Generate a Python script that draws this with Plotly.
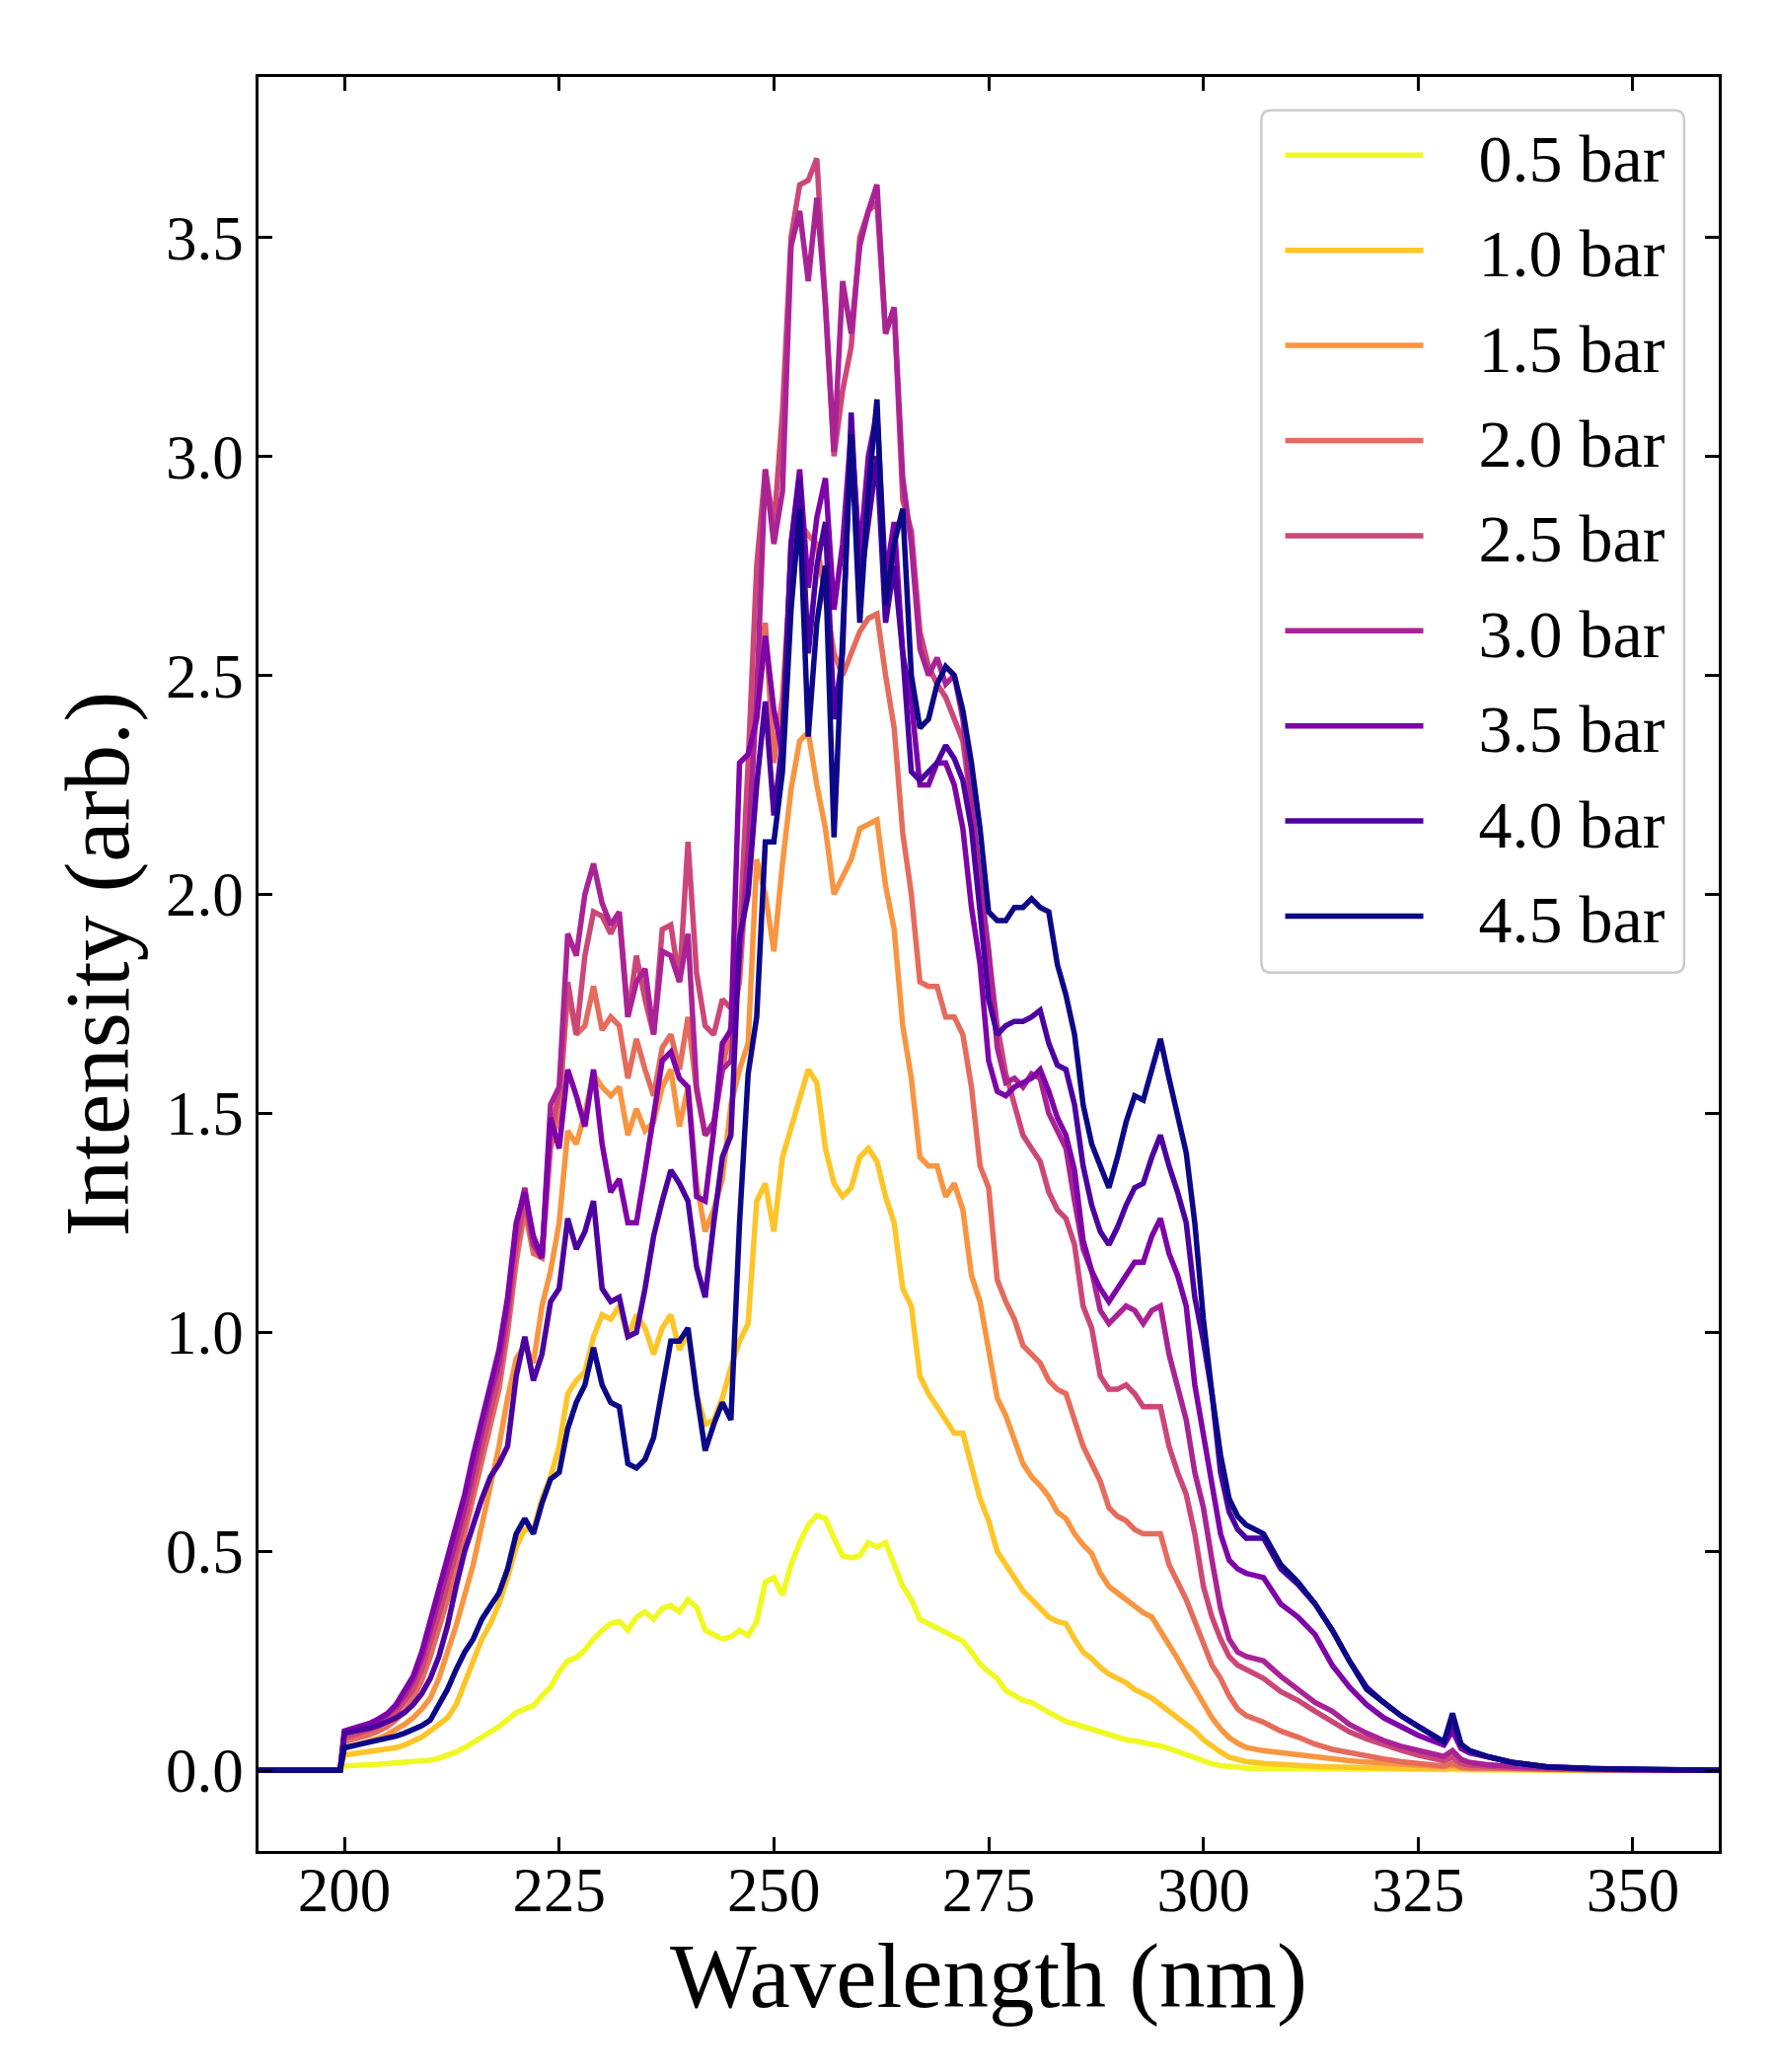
import plotly.graph_objects as go

# wavelength grid (nm)
wavelength = [190, 199.5,
    200, 201, 202, 203, 204, 205, 206, 207, 208, 209,
    210, 211, 212, 213, 214, 215, 216, 217, 218, 219,
    220, 221, 222, 223, 224, 225, 226, 227, 228, 229,
    230, 231, 232, 233, 234, 235, 236, 237, 238, 239,
    240, 241, 242, 243, 244, 245, 246, 247, 248, 249,
    250, 251, 252, 253, 254, 255, 256, 257, 258, 259,
    260, 261, 262, 263, 264, 265, 266, 267, 268, 269,
    270, 271, 272, 273, 274, 275, 276, 277, 278, 279,
    280, 281, 282, 283, 284, 285, 286, 287, 288, 289,
    290, 291, 292, 293, 294, 295, 296, 297, 298, 299,
    300, 301, 302, 303, 304, 305,
    307, 309, 311, 313, 315, 317, 319, 321, 323, 325, 327, 328, 329, 330, 331,
    333, 336, 340, 345, 350, 360]

int_05 = [0.0, 0.0,
    0.010, 0.012, 0.013, 0.013, 0.014, 0.015, 0.016, 0.017, 0.018, 0.020,
    0.023, 0.028, 0.034, 0.042, 0.052, 0.063, 0.075, 0.088, 0.100, 0.118,
    0.132, 0.140, 0.148, 0.170, 0.190, 0.225, 0.250, 0.258, 0.275, 0.300,
    0.320, 0.335, 0.340, 0.320, 0.350, 0.362, 0.345, 0.370, 0.376, 0.362,
    0.390, 0.372, 0.320, 0.310, 0.300, 0.305, 0.320, 0.308, 0.340, 0.430,
    0.440, 0.400, 0.470, 0.520, 0.560, 0.582, 0.575, 0.530, 0.490, 0.485,
    0.490, 0.520, 0.510, 0.520, 0.470, 0.420, 0.390, 0.345, 0.335, 0.325,
    0.312, 0.305, 0.295, 0.270, 0.243, 0.225, 0.210, 0.182, 0.170, 0.160,
    0.155, 0.142, 0.132, 0.122, 0.112, 0.106, 0.100, 0.094, 0.086, 0.080,
    0.075, 0.070, 0.067, 0.064, 0.060, 0.056, 0.050, 0.043, 0.035, 0.027,
    0.020, 0.015, 0.011, 0.008, 0.006, 0.005,
    0.004, 0.004, 0.003, 0.003, 0.003, 0.002, 0.002, 0.002, 0.002, 0.002, 0.002, 0.002, 0.003, 0.002, 0.001,
    0.001, 0.001, 0.001, 0.0, 0.0, 0.0]

int_10 = [0.0, 0.0,
    0.035, 0.038, 0.040, 0.042, 0.045, 0.048, 0.052, 0.058, 0.066, 0.076,
    0.090, 0.105, 0.120, 0.150, 0.200, 0.250, 0.300, 0.335, 0.380, 0.440,
    0.510, 0.550, 0.550, 0.620, 0.670, 0.740, 0.860, 0.890, 0.910, 0.990,
    1.040, 1.030, 1.060, 0.990, 1.040, 1.010, 0.950, 1.010, 1.040, 0.960,
    1.000, 0.860, 0.790, 0.800, 0.850, 0.920, 0.980, 1.020, 1.300, 1.340,
    1.230, 1.400, 1.470, 1.540, 1.600, 1.570, 1.420, 1.340, 1.310, 1.330,
    1.400, 1.420, 1.390, 1.310, 1.250, 1.100, 1.060, 0.900, 0.860, 0.830,
    0.800, 0.770, 0.770, 0.700, 0.620, 0.570, 0.500, 0.470, 0.440, 0.410,
    0.390, 0.370, 0.350, 0.340, 0.335, 0.300, 0.270, 0.255, 0.235, 0.220,
    0.210, 0.200, 0.185, 0.175, 0.165, 0.150, 0.135, 0.120, 0.105, 0.090,
    0.070, 0.055, 0.042, 0.030, 0.024, 0.020,
    0.016, 0.013, 0.011, 0.009, 0.008, 0.007, 0.006, 0.005, 0.004, 0.004, 0.003, 0.003, 0.005, 0.003, 0.002,
    0.002, 0.001, 0.001, 0.0, 0.0, 0.0]

int_15 = [0.0, 0.0,
    0.050, 0.055, 0.060, 0.066, 0.073, 0.082, 0.093, 0.105, 0.120, 0.140,
    0.165, 0.210, 0.270, 0.330, 0.400, 0.470, 0.560, 0.650, 0.740, 0.850,
    0.940, 0.970, 0.930, 1.060, 1.140, 1.250, 1.460, 1.430, 1.500, 1.590,
    1.560, 1.540, 1.560, 1.450, 1.510, 1.460, 1.480, 1.560, 1.600, 1.470,
    1.560, 1.340, 1.230, 1.280, 1.350, 1.520, 1.600, 1.660, 2.080, 2.000,
    1.870, 2.070, 2.240, 2.350, 2.370, 2.250, 2.150, 2.000, 2.040, 2.080,
    2.150, 2.160, 2.170, 2.020, 1.920, 1.700, 1.580, 1.400, 1.380, 1.380,
    1.310, 1.340, 1.280, 1.130, 1.070, 0.960, 0.850, 0.810, 0.750, 0.700,
    0.670, 0.650, 0.625, 0.590, 0.575, 0.540, 0.515, 0.495, 0.450, 0.420,
    0.405, 0.390, 0.375, 0.360, 0.350, 0.320, 0.290, 0.255, 0.220, 0.185,
    0.150, 0.120, 0.095, 0.075, 0.062, 0.052,
    0.045, 0.040, 0.034, 0.029, 0.025, 0.022, 0.019, 0.016, 0.014, 0.012, 0.009, 0.008, 0.012, 0.006, 0.005,
    0.004, 0.003, 0.002, 0.001, 0.0, 0.0]

int_20 = [0.0, 0.0,
    0.065, 0.070, 0.075, 0.082, 0.090, 0.100, 0.115, 0.135, 0.165, 0.205,
    0.260, 0.320, 0.390, 0.460, 0.540, 0.620, 0.700, 0.790, 0.870, 1.000,
    1.160, 1.280, 1.180, 1.170, 1.420, 1.500, 1.780, 1.680, 1.700, 1.790,
    1.690, 1.720, 1.700, 1.580, 1.670, 1.600, 1.540, 1.650, 1.680, 1.600,
    1.720, 1.550, 1.450, 1.470, 1.600, 1.700, 1.800, 2.100, 2.500, 2.620,
    2.300, 2.450, 2.750, 2.850, 2.820, 2.800, 2.680, 2.550, 2.500, 2.550,
    2.600, 2.630, 2.640, 2.500, 2.380, 2.140, 2.000, 1.800, 1.790, 1.790,
    1.720, 1.720, 1.680, 1.560, 1.380, 1.330, 1.120, 1.070, 1.030, 0.970,
    0.950, 0.930, 0.890, 0.870, 0.860, 0.800, 0.740, 0.700, 0.660, 0.600,
    0.580, 0.570, 0.550, 0.540, 0.540, 0.540, 0.470, 0.430, 0.390, 0.340,
    0.290, 0.240, 0.210, 0.170, 0.140, 0.125,
    0.110, 0.090, 0.076, 0.060, 0.048, 0.040, 0.033, 0.026, 0.020, 0.015, 0.011, 0.010, 0.016, 0.008, 0.006,
    0.005, 0.003, 0.002, 0.001, 0.0, 0.0]

int_25 = [0.0, 0.0,
    0.075, 0.080, 0.086, 0.093, 0.102, 0.114, 0.130, 0.155, 0.185, 0.230,
    0.290, 0.355, 0.425, 0.495, 0.570, 0.655, 0.735, 0.825, 0.900, 1.030,
    1.200, 1.300, 1.200, 1.180, 1.450, 1.550, 1.800, 1.680, 1.860, 1.960,
    1.950, 1.910, 1.950, 1.720, 1.860, 1.760, 1.680, 1.920, 1.930, 1.800,
    2.120, 1.820, 1.700, 1.680, 1.760, 1.740, 1.900, 2.300, 2.750, 2.970,
    2.840, 3.100, 3.500, 3.620, 3.630, 3.680, 3.350, 3.000, 3.150, 3.250,
    3.500, 3.560, 3.580, 3.280, 3.340, 2.900, 2.830, 2.600, 2.520, 2.480,
    2.450, 2.400, 2.350, 2.200, 2.040, 1.880, 1.700, 1.590, 1.520, 1.450,
    1.420, 1.390, 1.320, 1.280, 1.260, 1.200, 1.060, 1.010, 0.900, 0.870,
    0.870, 0.880, 0.860, 0.830, 0.830, 0.830, 0.740, 0.680, 0.630, 0.540,
    0.420, 0.350, 0.300, 0.260, 0.240, 0.230,
    0.210, 0.180, 0.160, 0.135, 0.110, 0.088, 0.072, 0.058, 0.046, 0.035, 0.025, 0.022, 0.030, 0.016, 0.012,
    0.009, 0.006, 0.003, 0.002, 0.001, 0.0]

int_30 = [0.0, 0.0,
    0.088, 0.093, 0.098, 0.105, 0.115, 0.128, 0.145, 0.172, 0.205, 0.255,
    0.320, 0.385, 0.455, 0.525, 0.600, 0.690, 0.770, 0.860, 0.930, 1.060,
    1.240, 1.330, 1.200, 1.170, 1.520, 1.560, 1.910, 1.860, 2.000, 2.070,
    1.980, 1.930, 1.960, 1.720, 1.800, 1.830, 1.680, 1.870, 1.860, 1.800,
    1.910, 1.560, 1.450, 1.480, 1.600, 1.620, 1.850, 2.100, 2.450, 2.970,
    2.800, 2.920, 3.480, 3.560, 3.400, 3.590, 3.350, 3.010, 3.400, 3.280,
    3.480, 3.560, 3.620, 3.280, 3.340, 2.950, 2.800, 2.560, 2.500, 2.540,
    2.480, 2.500, 2.400, 2.200, 2.030, 1.870, 1.650, 1.570, 1.580, 1.560,
    1.590, 1.580, 1.500, 1.460, 1.420, 1.300, 1.190, 1.140, 1.050, 1.020,
    1.040, 1.060, 1.050, 1.020, 1.050, 1.060, 0.950, 0.880, 0.800, 0.680,
    0.600, 0.480, 0.370, 0.300, 0.270, 0.260,
    0.250, 0.215, 0.185, 0.155, 0.135, 0.105, 0.085, 0.068, 0.055, 0.045, 0.035, 0.032, 0.045, 0.025, 0.018,
    0.013, 0.009, 0.005, 0.003, 0.001, 0.0]

int_35 = [0.0, 0.0,
    0.090, 0.095, 0.100, 0.108, 0.118, 0.130, 0.150, 0.180, 0.215, 0.270,
    0.340, 0.410, 0.480, 0.550, 0.630, 0.720, 0.800, 0.890, 0.960, 1.080,
    1.250, 1.320, 1.220, 1.170, 1.490, 1.420, 1.600, 1.540, 1.470, 1.600,
    1.430, 1.320, 1.350, 1.250, 1.250, 1.370, 1.500, 1.620, 1.640, 1.580,
    1.560, 1.310, 1.300, 1.460, 1.660, 1.690, 2.300, 2.320, 2.400, 2.590,
    2.420, 2.320, 2.800, 2.970, 2.700, 2.860, 2.950, 2.650, 2.800, 3.060,
    2.770, 3.000, 3.100, 2.720, 2.850, 2.550, 2.440, 2.250, 2.250, 2.300,
    2.300, 2.250, 2.150, 1.970, 1.840, 1.620, 1.550, 1.540, 1.560, 1.570,
    1.580, 1.600, 1.550, 1.490, 1.450, 1.370, 1.210, 1.140, 1.100, 1.070,
    1.100, 1.130, 1.160, 1.160, 1.220, 1.260, 1.180, 1.130, 1.060, 0.880,
    0.770, 0.660, 0.540, 0.480, 0.460, 0.450,
    0.440, 0.380, 0.350, 0.310, 0.240, 0.190, 0.150, 0.120, 0.100, 0.080, 0.065, 0.058, 0.090, 0.050, 0.040,
    0.030, 0.018, 0.008, 0.004, 0.002, 0.0]

int_40 = [0.0, 0.0,
    0.085, 0.088, 0.092, 0.097, 0.103, 0.110, 0.120, 0.132, 0.150, 0.175,
    0.210, 0.260, 0.330, 0.420, 0.500, 0.560, 0.620, 0.670, 0.700, 0.740,
    0.900, 0.990, 0.890, 0.950, 1.070, 1.100, 1.260, 1.190, 1.230, 1.300,
    1.100, 1.070, 1.080, 0.990, 1.000, 1.100, 1.220, 1.300, 1.370, 1.340,
    1.300, 1.150, 1.080, 1.250, 1.400, 1.450, 1.900, 2.000, 2.250, 2.440,
    2.180, 2.350, 2.800, 2.950, 2.550, 2.750, 2.850, 2.400, 2.550, 3.100,
    2.700, 2.850, 3.000, 2.620, 2.750, 2.550, 2.280, 2.260, 2.280, 2.300,
    2.340, 2.310, 2.260, 2.150, 1.960, 1.760, 1.680, 1.700, 1.710, 1.710,
    1.720, 1.735, 1.660, 1.610, 1.600, 1.520, 1.380, 1.290, 1.230, 1.200,
    1.240, 1.290, 1.330, 1.340, 1.400, 1.450, 1.380, 1.320, 1.250, 1.080,
    0.980, 0.860, 0.680, 0.590, 0.550, 0.530,
    0.530, 0.460, 0.425, 0.380, 0.320, 0.250, 0.190, 0.155, 0.125, 0.100, 0.078, 0.065, 0.110, 0.058, 0.045,
    0.032, 0.018, 0.008, 0.004, 0.002, 0.0]

int_45 = [0.0, 0.0,
    0.052, 0.056, 0.060, 0.064, 0.068, 0.072, 0.078, 0.085, 0.093, 0.102,
    0.115, 0.150, 0.185, 0.230, 0.270, 0.300, 0.345, 0.375, 0.405, 0.460,
    0.540, 0.575, 0.540, 0.610, 0.665, 0.680, 0.780, 0.840, 0.880, 0.965,
    0.880, 0.840, 0.830, 0.700, 0.690, 0.710, 0.760, 0.870, 0.980, 0.980,
    1.010, 0.860, 0.730, 0.790, 0.840, 0.800, 1.250, 1.590, 1.720, 2.120,
    2.120, 2.280, 2.650, 2.880, 2.360, 2.620, 2.750, 2.130, 2.600, 3.050,
    2.620, 2.920, 3.130, 2.660, 2.800, 2.880, 2.500, 2.380, 2.400, 2.480,
    2.520, 2.500, 2.420, 2.300, 2.150, 1.960, 1.940, 1.940, 1.970, 1.970,
    1.990, 1.970, 1.960, 1.840, 1.770, 1.680, 1.520, 1.430, 1.380, 1.330,
    1.400, 1.480, 1.540, 1.530, 1.600, 1.670, 1.580, 1.490, 1.410, 1.250,
    1.030, 0.860, 0.720, 0.620, 0.580, 0.560,
    0.540, 0.470, 0.430, 0.380, 0.320, 0.250, 0.185, 0.155, 0.125, 0.100, 0.078, 0.065, 0.130, 0.060, 0.045,
    0.032, 0.018, 0.008, 0.004, 0.002, 0.0]

labels = ['0.5 bar', '1.0 bar', '1.5 bar', '2.0 bar', '2.5 bar',
          '3.0 bar', '3.5 bar', '4.0 bar', '4.5 bar']
series = [int_05, int_10, int_15, int_20, int_25, int_30, int_35, int_40, int_45]
# plasma colormap, yellow -> dark blue
colors = ['#f0f921', '#fdc527', '#f89540', '#e56b5d', '#cc4778',
          '#aa2395', '#7e03a8', '#4c02a1', '#0d0887']

fig = go.Figure()
for name, vals, col in zip(labels, series, colors):
    # non-breaking spaces push the legend text away from the line sample
    fig.add_trace(go.Scatter(x=wavelength, y=vals, mode='lines',
                             name='\u00a0\u00a0\u00a0' + name,
                             legendgroup=name,
                             line=dict(color=col, width=5.5)))

axis_style = dict(ticks='inside', ticklen=14, tickwidth=2.5, tickcolor='black',
                  showline=True, linewidth=2.5, linecolor='black', mirror='allticks',
                  showgrid=False, zeroline=False,
                  tickfont=dict(family='Liberation Serif', size=63, color='black'))

fig.update_xaxes(range=[190, 360], tickvals=[200, 225, 250, 275, 300, 325, 350],
                 ticklabelstandoff=-17,
                 title=dict(text='Wavelength (nm)', standoff=14,
                            font=dict(family='Liberation Serif', size=93, color='black')),
                 **axis_style)
fig.update_yaxes(range=[-0.184, 3.866], tickvals=[0, 0.5, 1.0, 1.5, 2.0, 2.5, 3.0, 3.5],
                 tickformat='.1f', ticklabelstandoff=0,
                 title=dict(text='Intensity (arb.)', standoff=7,
                            font=dict(family='Liberation Serif', size=93, color='black')),
                 **axis_style)

# rounded legend frame (matplotlib style), drawn under the legend
bx0, bx1, by0, by1 = 0.6868, 0.9763, 0.4951, 0.9812
rx, ry = 0.0068, 0.0056
frame = (f"M {bx0 + rx},{by1} L {bx1 - rx},{by1} Q {bx1},{by1} {bx1},{by1 - ry} "
         f"L {bx1},{by0 + ry} Q {bx1},{by0} {bx1 - rx},{by0} "
         f"L {bx0 + rx},{by0} Q {bx0},{by0} {bx0},{by0 + ry} "
         f"L {bx0},{by1 - ry} Q {bx0},{by1} {bx0 + rx},{by1} Z")
fig.add_shape(type='path', path=frame, xref='paper', yref='paper', layer='above',
              line=dict(color='#cccccc', width=2.5), fillcolor='rgba(255,255,255,0.8)')

fig.update_layout(width=1800, height=2100,
                  margin=dict(l=254, r=66, t=70, b=232),
                  paper_bgcolor='white', plot_bgcolor='white',
                  font=dict(family='Liberation Serif', color='black'),
                  legend=dict(x=0.6997, y=0.9841, xanchor='left', yanchor='top',
                              bgcolor='rgba(0,0,0,0)', borderwidth=0,
                              itemwidth=140, tracegroupgap=5,
                              font=dict(family='Liberation Serif', size=68, color='black')))

fig.write_html("out.html")
